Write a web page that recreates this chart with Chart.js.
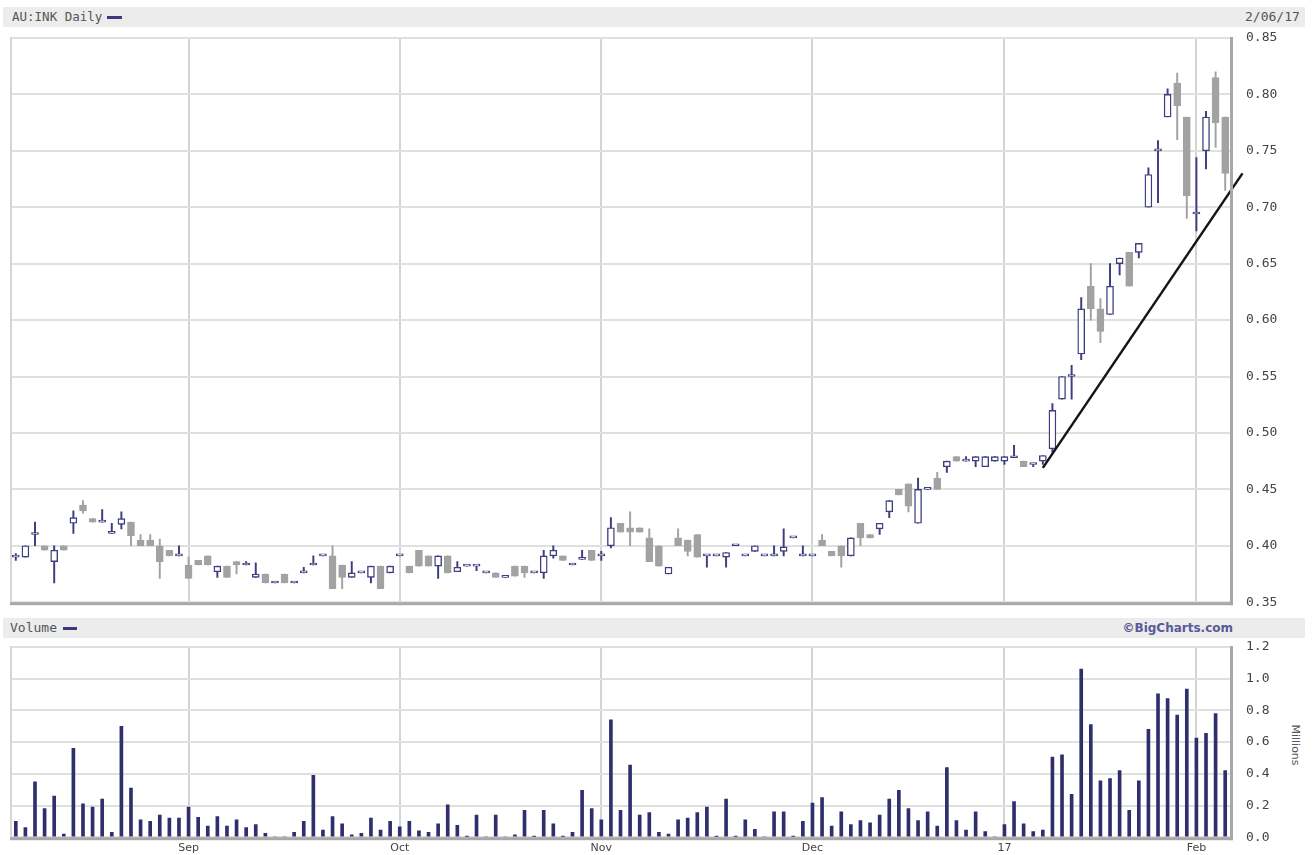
<!DOCTYPE html>
<html>
<head>
<meta charset="utf-8">
<script src="https://cdn.jsdelivr.net/npm/chart.js@4.4.0/dist/chart.umd.min.js"></script>
<style>
  body { margin: 0; background: #fff; width: 1314px; height: 855px; overflow: hidden; position: relative; }
  .band { position: absolute; left: 3px; width: 1302px; height: 20px; background: #ececec; }
  .txt { position: absolute; font-family: 'DejaVu Sans Mono', monospace; font-size: 13px; color: #555; line-height: 20px; white-space: nowrap; }
  .dash { position: absolute; height: 3px; background: #3b3b7c; }
  canvas { position: absolute; left: 0; }
  #priceChart { top: 0; }
  #volChart { top: 612px; }
  #brand { position: absolute; top: 618px; right: 81px; font-family: 'DejaVu Sans', sans-serif; font-weight: bold; font-size: 12px; color: #5a5a98; line-height: 20px; }
  #millions { position: absolute; left: 1295px; top: 745px; font-family: 'DejaVu Sans', sans-serif; font-size: 11px; color: #555; transform: translate(-50%, -50%) rotate(90deg); white-space: nowrap; }
</style>
</head>
<body>
<div class="band" style="top:7px"></div>
<div class="txt" style="top:7px; left:12px; font-size:12.5px">AU:INK Daily</div>
<div class="dash" style="top:16px; left:107px; width:15px"></div>
<div class="txt" style="top:7px; left:1245px">2/06/17</div>

<div class="band" style="top:618px"></div>
<div class="txt" style="top:618px; left:10px">Volume</div>
<div class="dash" style="top:627px; left:63px; width:14px"></div>
<div id="brand">&copy;BigCharts.com</div>
<div id="millions">Millions</div>

<canvas id="priceChart" width="1314" height="626"></canvas>
<canvas id="volChart" width="1314" height="249"></canvas>

<script>
// AU:INK daily, 8 Aug 2016 - 6 Feb 2017 (trading day index 0..126)
const opens = [
  0.390, 0.390, 0.410, 0.400, 0.386, 0.400, 0.420, 0.436, 0.424, 0.421,
  0.411, 0.419, 0.421, 0.405, 0.405, 0.400, 0.396, 0.391, 0.383, 0.387,
  0.391, 0.377, 0.382, 0.386, 0.383, 0.372, 0.375, 0.367, 0.375, 0.367,
  0.376, 0.383, 0.391, 0.391, 0.383, 0.372, 0.376, 0.372, 0.382, 0.376,
  0.391, 0.382, 0.396, 0.391, 0.382, 0.391, 0.377, 0.382, 0.382, 0.376,
  0.376, 0.372, 0.382, 0.382, 0.376, 0.376, 0.391, 0.391, 0.383, 0.388,
  0.396, 0.391, 0.400, 0.420, 0.416, 0.416, 0.407, 0.400, 0.375, 0.407,
  0.405, 0.410, 0.391, 0.391, 0.390, 0.400, 0.391, 0.395, 0.391, 0.391,
  0.395, 0.407, 0.391, 0.391, 0.405, 0.395, 0.400, 0.391, 0.420, 0.410,
  0.415, 0.430, 0.450, 0.455, 0.420, 0.450, 0.460, 0.470, 0.479, 0.475,
  0.475, 0.470, 0.475, 0.475, 0.478, 0.475, 0.472, 0.475, 0.486, 0.530,
  0.550, 0.570, 0.630, 0.610, 0.605, 0.650, 0.660, 0.660, 0.700, 0.750,
  0.780, 0.810, 0.780, 0.694, 0.750, 0.815, 0.780
];
const highs = [
  0.393, 0.400, 0.421, 0.400, 0.400, 0.400, 0.431, 0.440, 0.424, 0.432,
  0.420, 0.430, 0.421, 0.410, 0.410, 0.406, 0.396, 0.400, 0.390, 0.387,
  0.391, 0.382, 0.382, 0.386, 0.386, 0.385, 0.375, 0.367, 0.375, 0.367,
  0.381, 0.391, 0.391, 0.400, 0.383, 0.386, 0.376, 0.382, 0.382, 0.382,
  0.391, 0.382, 0.396, 0.391, 0.391, 0.391, 0.386, 0.382, 0.382, 0.376,
  0.376, 0.372, 0.382, 0.382, 0.376, 0.396, 0.400, 0.391, 0.383, 0.396,
  0.396, 0.395, 0.425, 0.420, 0.430, 0.416, 0.415, 0.400, 0.381, 0.415,
  0.405, 0.410, 0.391, 0.391, 0.394, 0.400, 0.391, 0.400, 0.391, 0.400,
  0.415, 0.407, 0.400, 0.391, 0.410, 0.395, 0.400, 0.407, 0.420, 0.410,
  0.420, 0.440, 0.450, 0.455, 0.460, 0.450, 0.465, 0.475, 0.479, 0.479,
  0.479, 0.479, 0.479, 0.479, 0.489, 0.475, 0.472, 0.480, 0.526, 0.550,
  0.560, 0.620, 0.650, 0.619, 0.650, 0.655, 0.660, 0.668, 0.735, 0.759,
  0.805, 0.819, 0.780, 0.744, 0.785, 0.820, 0.780
];
const lows = [
  0.387, 0.390, 0.400, 0.396, 0.367, 0.396, 0.411, 0.429, 0.421, 0.421,
  0.411, 0.415, 0.400, 0.400, 0.400, 0.371, 0.391, 0.391, 0.371, 0.383,
  0.383, 0.372, 0.372, 0.375, 0.383, 0.372, 0.367, 0.367, 0.367, 0.367,
  0.376, 0.383, 0.391, 0.362, 0.362, 0.372, 0.376, 0.367, 0.362, 0.376,
  0.391, 0.376, 0.382, 0.382, 0.371, 0.376, 0.377, 0.382, 0.378, 0.376,
  0.372, 0.372, 0.373, 0.372, 0.376, 0.371, 0.389, 0.387, 0.383, 0.388,
  0.387, 0.387, 0.398, 0.412, 0.400, 0.412, 0.386, 0.382, 0.375, 0.400,
  0.391, 0.390, 0.381, 0.391, 0.381, 0.400, 0.391, 0.395, 0.391, 0.391,
  0.391, 0.407, 0.391, 0.391, 0.400, 0.391, 0.381, 0.391, 0.400, 0.407,
  0.410, 0.425, 0.445, 0.430, 0.420, 0.450, 0.450, 0.465, 0.475, 0.475,
  0.470, 0.470, 0.475, 0.472, 0.478, 0.470, 0.470, 0.472, 0.483, 0.530,
  0.530, 0.565, 0.600, 0.580, 0.605, 0.640, 0.630, 0.655, 0.700, 0.704,
  0.780, 0.760, 0.690, 0.679, 0.734, 0.753, 0.715
];
const closes = [
  0.390, 0.400, 0.410, 0.396, 0.396, 0.396, 0.425, 0.431, 0.421, 0.421,
  0.411, 0.424, 0.409, 0.400, 0.400, 0.386, 0.391, 0.391, 0.371, 0.383,
  0.383, 0.382, 0.372, 0.383, 0.383, 0.375, 0.367, 0.367, 0.367, 0.367,
  0.376, 0.383, 0.391, 0.362, 0.372, 0.376, 0.376, 0.382, 0.362, 0.382,
  0.391, 0.376, 0.382, 0.382, 0.391, 0.376, 0.381, 0.382, 0.382, 0.376,
  0.372, 0.372, 0.373, 0.376, 0.376, 0.391, 0.396, 0.387, 0.383, 0.388,
  0.387, 0.391, 0.416, 0.412, 0.412, 0.412, 0.386, 0.382, 0.381, 0.400,
  0.395, 0.390, 0.391, 0.391, 0.394, 0.400, 0.391, 0.400, 0.391, 0.391,
  0.399, 0.407, 0.391, 0.391, 0.400, 0.391, 0.391, 0.407, 0.407, 0.407,
  0.420, 0.440, 0.445, 0.435, 0.450, 0.450, 0.450, 0.475, 0.475, 0.475,
  0.479, 0.479, 0.479, 0.479, 0.478, 0.470, 0.472, 0.480, 0.520, 0.550,
  0.550, 0.610, 0.610, 0.590, 0.630, 0.655, 0.630, 0.668, 0.729, 0.750,
  0.800, 0.790, 0.710, 0.694, 0.780, 0.775, 0.730
];
// volume in millions
const volumes = [
  0.10, 0.06, 0.35, 0.18, 0.26, 0.02, 0.56, 0.21, 0.19, 0.24,
  0.03, 0.70, 0.31, 0.11, 0.10, 0.14, 0.12, 0.12, 0.19, 0.125,
  0.07, 0.13, 0.07, 0.11, 0.06, 0.08, 0.025, 0, 0, 0.03,
  0.10, 0.39, 0.045, 0.13, 0.085, 0.015, 0.025, 0.12, 0.045, 0.10,
  0.065, 0.10, 0.04, 0.03, 0.085, 0.205, 0.075, 0.005, 0.14, 0,
  0.14, 0, 0.015, 0.17, 0.005, 0.17, 0.085, 0.005, 0.03, 0.295,
  0.18, 0.11, 0.74, 0.17, 0.455, 0.14, 0.155, 0.03, 0.02, 0.11,
  0.12, 0.155, 0.19, 0.005, 0.24, 0.005, 0.11, 0.05, 0, 0.16,
  0.16, 0.005, 0.10, 0.215, 0.25, 0.07, 0.16, 0.08, 0.105, 0.09,
  0.14, 0.24, 0.295, 0.18, 0.105, 0.16, 0.07, 0.44, 0.105, 0.045,
  0.16, 0.035, 0, 0.08, 0.225, 0.085, 0.035, 0.045, 0.505, 0.52,
  0.27, 1.06, 0.71, 0.355, 0.37, 0.42, 0.17, 0.355, 0.68, 0.905,
  0.875, 0.77, 0.935, 0.625, 0.655, 0.78, 0.42
];
// first trading day of each month (index) and its label
const monthTicks = [18, 40, 61, 83, 103, 123];
const monthLabels = ['Sep', 'Oct', 'Nov', 'Dec', '17', 'Feb'];
// hand-drawn support line (day index, price)
const trendX = [107, 127.8];
const trendY = [0.469, 0.730];

const NAVY = '#3d3d80';
const GRAY = '#a2a2a2';
const GRID = '#e0e0e0';
const VGRID = '#d4d4d4';
const LABEL_FONT = { family: 'DejaVu Sans Mono', size: 13 };

const up = closes.map((c, i) => c >= opens[i]);

// Frame: light top/left, darker right/bottom edge
const framePlugin = {
  id: 'frame',
  afterDraw(chart) {
    const { ctx, chartArea: a } = chart;
    ctx.save();
    ctx.fillStyle = '#d6d6d6';
    ctx.fillRect(a.left - 1, a.top - 1, 2, a.bottom - a.top + 1);
    ctx.fillStyle = '#a8a8a8';
    ctx.fillRect(a.right, a.top - 1, 3, a.bottom - a.top + 4);
    ctx.fillRect(a.left - 1, a.bottom, a.right - a.left + 4, 3);
    ctx.restore();
  }
};

function monthAxis(showLabels, axisHeight) {
  return {
    type: 'linear',
    min: -0.5,
    max: 126.5,
    offset: false,
    afterBuildTicks: (scale) => { scale.ticks = monthTicks.map(v => ({ value: v })); },
    afterFit: (scale) => { scale.height = axisHeight; },
    grid: { color: VGRID, lineWidth: 2, drawTicks: false, offset: false },
    border: { display: false },
    ticks: {
      display: showLabels,
      padding: 4,
      autoSkip: false,
      maxRotation: 0,
      color: '#444',
      font: { family: 'DejaVu Sans', size: 11 },
      callback: (v) => monthLabels[monthTicks.indexOf(v)]
    }
  };
}

// Price chart (candles as floating bars: wick + body)
new Chart(document.getElementById('priceChart'), {
  type: 'bar',
  data: {
    datasets: [
      {
        type: 'line',
        data: trendX.map((x, i) => ({ x: x, y: trendY[i] })),
        borderColor: '#151515',
        borderWidth: 2.5,
        pointRadius: 0,
        clip: false,
        order: 0
      },
      {
        data: opens.map((o, i) => ({ x: i, y: [Math.min(o, closes[i]), Math.max(o, closes[i])] })),
        backgroundColor: up.map(u => u ? '#ffffff' : GRAY),
        borderColor: up.map(u => u ? NAVY : GRAY),
        borderWidth: 1.4,
        borderSkipped: false,
        barThickness: 7,
        minBarLength: 2,
        grouped: false,
        order: 1
      },
      {
        data: lows.map((l, i) => ({ x: i, y: [l, highs[i]] })),
        backgroundColor: up.map(u => u ? NAVY : GRAY),
        barThickness: 1.3,
        grouped: false,
        order: 2
      }
    ]
  },
  options: {
    responsive: false,
    animation: false,
    devicePixelRatio: 1,
    layout: { padding: { left: 11, top: 38, right: 0, bottom: 9 } },
    plugins: { legend: { display: false }, tooltip: { enabled: false } },
    scales: {
      x: monthAxis(false, 0),
      y: {
        position: 'right',
        min: 0.35,
        max: 0.85,
        afterFit: (scale) => { scale.width = 84; },
        grid: { color: GRID, lineWidth: 2, drawTicks: false },
        border: { display: false },
        ticks: {
          stepSize: 0.05,
          padding: 16,
          color: '#444',
          font: LABEL_FONT,
          callback: (v) => v.toFixed(2)
        }
      }
    }
  },
  plugins: [framePlugin]
});

// Volume chart
new Chart(document.getElementById('volChart'), {
  type: 'bar',
  data: {
    datasets: [{
      data: volumes.map((v, i) => ({ x: i, y: v })),
      backgroundColor: '#2f2f6e',
      barThickness: 3,
      grouped: false
    }]
  },
  options: {
    responsive: false,
    animation: false,
    devicePixelRatio: 1,
    layout: { padding: { left: 11, top: 35, right: 0, bottom: 0 } },
    plugins: { legend: { display: false }, tooltip: { enabled: false } },
    scales: {
      x: monthAxis(true, 19),
      y: {
        position: 'right',
        min: 0,
        max: 1.2,
        afterFit: (scale) => { scale.width = 84; },
        grid: { color: GRID, lineWidth: 2, drawTicks: false },
        border: { display: false },
        ticks: {
          stepSize: 0.2,
          padding: 16,
          color: '#444',
          font: LABEL_FONT,
          callback: (v) => v.toFixed(1)
        }
      }
    }
  },
  plugins: [framePlugin]
});
</script>
</body>
</html>
